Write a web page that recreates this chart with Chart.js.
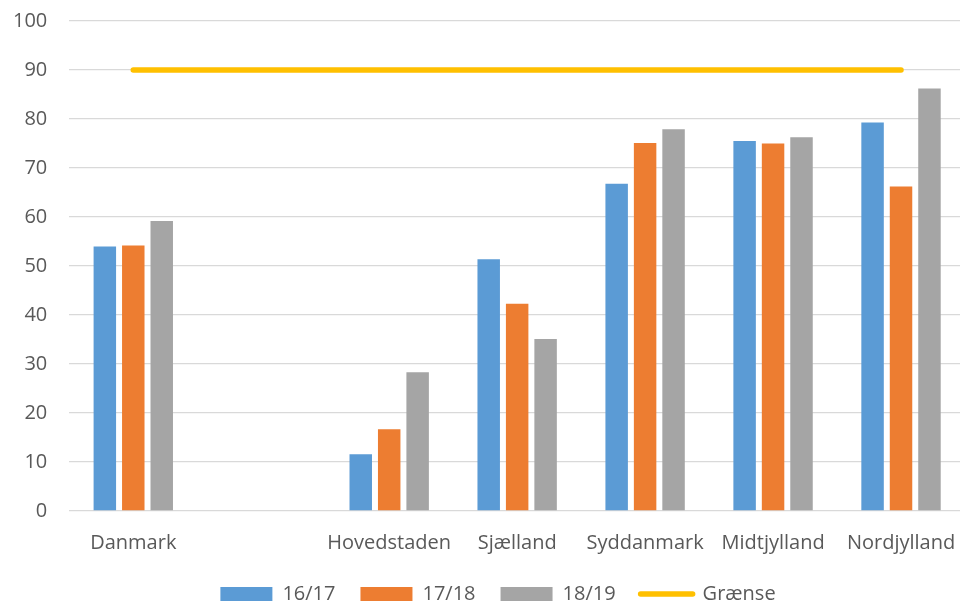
<!doctype html>
<html lang="da">
<head>
    <meta charset="utf-8">
    <title>Andel pr. region</title>
    <style>
        html, body { margin: 0; padding: 0; background: #fff; overflow: hidden; }
        #wrap { width: 965px; height: 606px; }
    </style>
</head>
<body>
    <div id="wrap">
        <canvas id="regionChart" width="965" height="606"></canvas>
    </div>
    <script src="https://cdn.jsdelivr.net/npm/chart.js@4.4.1/dist/chart.umd.min.js"></script>
    <script>
        var regions = ['Danmark', '', 'Hovedstaden', 'Sjælland', 'Syddanmark', 'Midtjylland', 'Nordjylland'];
        var aar1617 = [54.0, null, 11.6, 51.4, 66.8, 75.5, 79.3];
        var aar1718 = [54.2, null, 16.7, 42.3, 75.1, 75.0, 66.2];
        var aar1819 = [59.2, null, 28.3, 35.1, 77.9, 76.3, 86.2];
        var graense = [90, 90, 90, 90, 90, 90, 90];

        var textColor = '#595959';
        var fontFamily = '"Open Sans", "Liberation Sans", sans-serif';
        var yellow = '#FFC000';

        function barSet(label, values, color) {
            return {
                type: 'bar',
                label: label,
                data: values,
                backgroundColor: color,
                borderWidth: 0,
                pointStyle: 'rect',
                categoryPercentage: 0.667,
                barPercentage: 0.79
            };
        }

        // legend sits a bit right of the canvas centre in the original
        var legendShift = {
            id: 'legendShift',
            afterLayout: function(chart) {
                chart.legend.left += 20;
                chart.legend.right += 20;
            }
        };

        var ctx = document.getElementById('regionChart').getContext('2d');
        var regionChart = new Chart(ctx, {
            data: {
                labels: regions,
                datasets: [
                    barSet('16/17', aar1617, '#5B9BD5'),
                    barSet('17/18', aar1718, '#ED7D31'),
                    barSet('18/19', aar1819, '#A5A5A5'),
                    {
                        type: 'line',
                        label: 'Grænse',
                        data: graense,
                        borderColor: yellow,
                        backgroundColor: yellow,
                        borderWidth: 5.5,
                        borderCapStyle: 'round',
                        pointRadius: 0,
                        pointStyle: 'line',
                        pointBorderColor: yellow,
                        pointBackgroundColor: yellow,
                        pointBorderWidth: 5.5,
                        fill: false
                    }
                ]
            },
            plugins: [legendShift],
            options: {
                responsive: false,
                animation: false,
                layout: {
                    padding: { top: 21, left: -9, right: 0, bottom: -8 }
                },
                plugins: {
                    tooltip: { enabled: false },
                    legend: {
                        position: 'bottom',
                        labels: {
                            usePointStyle: true,
                            pointStyleWidth: 52,
                            boxHeight: 14,
                            padding: 25,
                            color: textColor,
                            font: { family: fontFamily, size: 20 },
                            generateLabels: function(chart) {
                                var items = Chart.defaults.plugins.legend.labels.generateLabels(chart);
                                items.forEach(function(item) {
                                    if (item.pointStyle === 'line') item.lineCap = 'round';
                                });
                                return items;
                            }
                        }
                    }
                },
                scales: {
                    x: {
                        grid: { display: false, drawTicks: false },
                        border: { display: false },
                        ticks: {
                            color: textColor,
                            autoSkip: false,
                            maxRotation: 0,
                            padding: 16,
                            font: { family: fontFamily, size: 20, lineHeight: 1.6 }
                        },
                        afterFit: function(axis) {
                            axis.height = 48;
                            axis.paddingLeft = 0;
                            axis.paddingRight = 0;
                        }
                    },
                    y: {
                        min: 0,
                        max: 100,
                        grid: { color: '#D9D9D9', lineWidth: 1.3, drawTicks: false },
                        border: { display: false },
                        ticks: {
                            stepSize: 10,
                            color: textColor,
                            padding: 22,
                            font: { family: fontFamily, size: 20 }
                        },
                        afterFit: function(axis) {
                            axis.paddingTop = 0;
                            axis.paddingBottom = 0;
                        }
                    }
                }
            }
        });
    </script>
</body>
</html>
